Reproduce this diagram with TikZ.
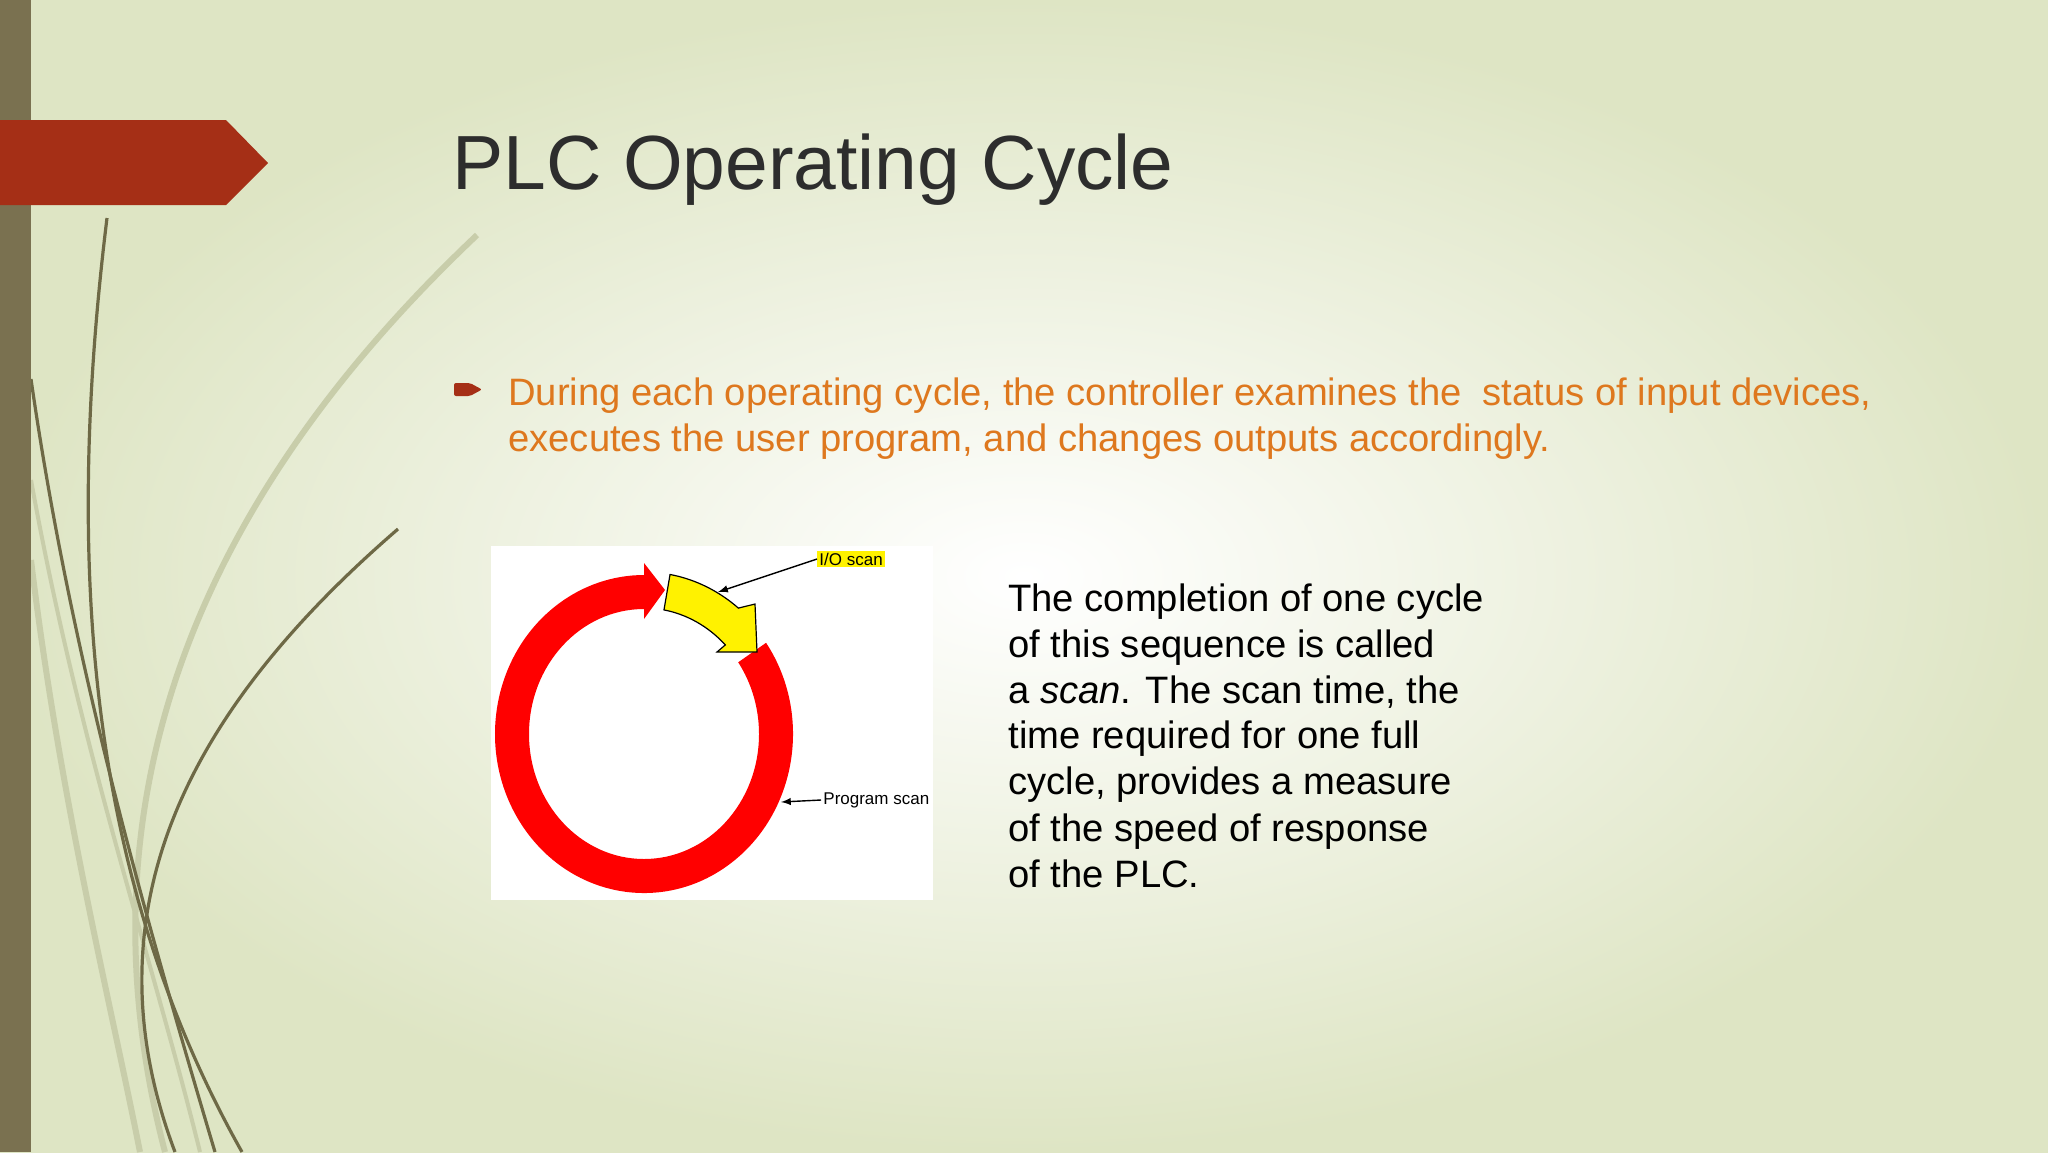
\documentclass[tikz,border=0pt]{standalone}
\usepackage{fontspec}
\setmainfont{Liberation Sans}
\definecolor{tag}{RGB}{165,47,22}
\definecolor{orng}{RGB}{222,120,30}
\definecolor{oliv}{RGB}{110,105,70}
\definecolor{loliv}{RGB}{200,205,170}
\definecolor{barc}{RGB}{122,113,80}
\definecolor{bgout}{RGB}{222,229,196}
\definecolor{ttl}{RGB}{45,45,45}
\begin{document}
\begin{tikzpicture}[x=0.5pt,y=-0.5pt,
  olive/.style={draw=oliv,line width=1.6pt},
  lolive/.style={draw=loliv,line width=3pt},
  body/.style={anchor=base west,font=\fontsize{19.1}{23}\selectfont,inner sep=0pt},
  small/.style={font=\fontsize{8.5}{10}\selectfont,inner sep=1pt}]
\useasboundingbox (0,0) rectangle (2048,1152);
\shade[inner color=white,outer color=bgout] (0,0) rectangle (2048,1152);
% decorative curves
\draw[lolive] (477,235) .. controls (250,450) and (60,750) .. (165,1152);
\draw[lolive] (31,560) .. controls (60,800) and (110,1000) .. (140,1152);
\draw[lolive,line width=2pt] (31,480) .. controls (80,750) and (150,950) .. (200,1152);
\draw[olive] (107,218) .. controls (60,600) and (100,900) .. (242,1152);
\draw[olive] (398,529) .. controls (200,700) and (80,900) .. (175,1152);
\draw[olive] (31,379) .. controls (70,650) and (140,900) .. (215,1152);
\fill[barc] (0,0) rectangle (31,1152);
\fill[tag] (0,120) -- (226,120) -- (268,163) -- (226,205) -- (0,205) -- cycle;
% title
\node[anchor=base west,inner sep=0pt,font=\fontsize{38.4}{46}\selectfont,text=ttl] (title) at (452,189) {PLC Operating Cycle};
% bullet
\fill[tag,rounded corners=1pt] (454,383) -- (470,383) -- (482,389.5) -- (470,396) -- (454,396) -- cycle;
\node[body,text=orng] (b1) at (508,405) {During each operating cycle, the controller examines the\ \ status of input devices,};
\node[body,text=orng] (b2) at (508,451) {executes the user program, and changes outputs accordingly.};
% figure
\fill[white] (491,546) rectangle (933,900);
\begin{scope}[shift={(644,734)},y=0.5pt,x=0.5pt]
\fill[red] ({149*cos(35)},{159*sin(35)}) arc[start angle=35,end angle=-270,x radius=149,y radius=159]
  -- (0,171) -- (21,144) -- (0,115) -- (0,125)
  arc[start angle=90,end angle=395,x radius=115,y radius=125] -- cycle;
\fill[yellow,draw=black,line width=0.6pt] ({150*cos(80)},{162*sin(80)}) arc[start angle=80,end angle=51,x radius=150,y radius=162]
  -- (111,130) -- (113,82) -- (73,82) -- ({115*cos(45)},{126*sin(45)})
  arc[start angle=45,end angle=80,x radius=115,y radius=126] -- cycle;
\coordinate (ytip) at (74,142);
\coordinate (rtip) at (137,-68);
\end{scope}
\node[small,fill=yellow,anchor=west] (io) at (817,559) {I/O scan};
\node[small,anchor=west] (ps) at (821,800) {Program scan};
\draw[-latex,line width=0.7pt] (io.west) -- (ytip);
\draw[-latex,line width=0.7pt] (ps.west) -- (rtip);
% right text
\node[body] (t1) at (1008,611) {The completion of one cycle};
\node[body] (t2) at (1008,657) {of this sequence is called};
\node[body] (t3) at (1008,703) {a \textit{scan}. The scan time, the};
\node[body] (t4) at (1008,748) {time required for one full};
\node[body] (t5) at (1008,794) {cycle, provides a measure};
\node[body] (t6) at (1008,841) {of the speed of response};
\node[body] (t7) at (1008,887) {of the PLC.};
\end{tikzpicture}
\end{document}
